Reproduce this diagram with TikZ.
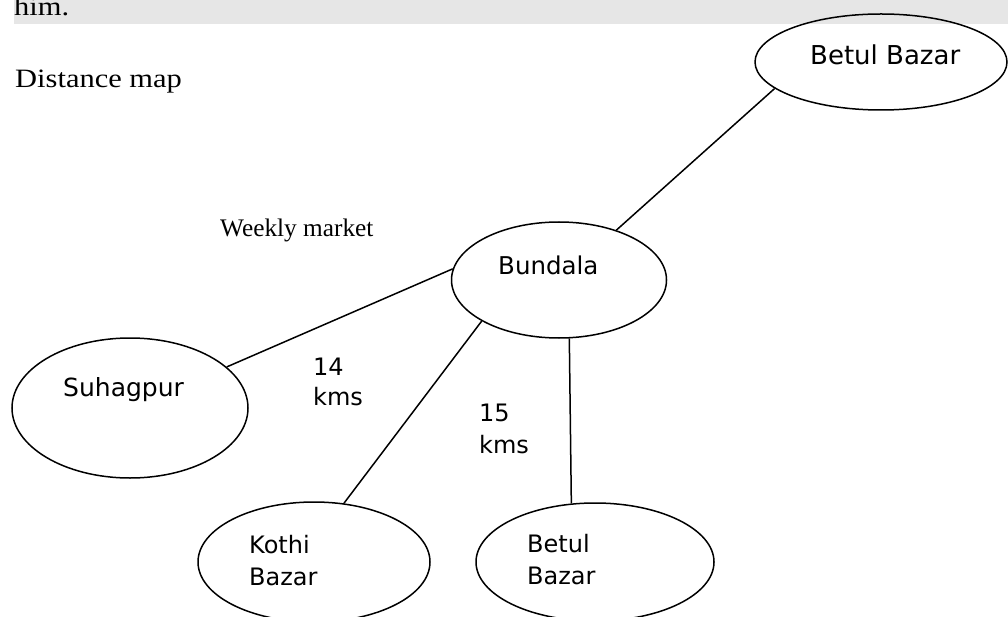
\documentclass[tikz,border=0pt]{standalone}
\usepackage{fontspec}
\setmainfont{Liberation Serif}
\newfontfamily\labfont{DejaVu Sans}
\usetikzlibrary{shapes.geometric}
\definecolor{bargray}{HTML}{E6E6E6}
\tikzset{
  place/.style={draw, ellipse, line width=1.5pt, inner sep=0pt},
  lab/.style={anchor=base west, inner sep=0pt, align=left, font=\labfont\fontsize{24}{32}\selectfont},
  serif/.style={anchor=base west, inner sep=0pt},
  link/.style={line width=1.5pt}
}
\begin{document}
\begin{tikzpicture}[x=1pt,y=-1pt]
\useasboundingbox (0,0) rectangle (1008,617);
\fill[bargray] (14,0) rectangle (1008,24);
\node[serif] (him) at (14,16) {\fontsize{26.5}{30}\selectfont\scalebox{1.15}[1]{him.}};
\node[serif] (title) at (15,88) {\fontsize{26.5}{30}\selectfont\scalebox{1.15}[1]{Distance map}};
\node[serif] (weekly) at (220,237) {\fontsize{25.3}{30}\selectfont Weekly market};

\node[place, minimum width=252pt, minimum height=96pt] (betultop) at (881,62) {};
\node[place, minimum width=215pt, minimum height=116pt] (bundala) at (559,280) {};
\node[place, minimum width=236pt, minimum height=140pt] (suhagpur) at (130,408) {};
\node[place, minimum width=232pt, minimum height=120pt] (kothi) at (314,562) {};
\node[place, minimum width=238pt, minimum height=118pt] (betulbot) at (595,562) {};

\node[lab, font=\labfont\fontsize{26}{31}\selectfont] (tBetulTop) at (810,65) {Betul Bazar};
\node[lab, font=\labfont\fontsize{24.5}{31}\selectfont] (tBundala) at (498,275) {Bundala};
\node[lab, font=\labfont\fontsize{25}{31}\selectfont] (tSuhagpur) at (63,396) {Suhagpur};
\node[lab] (tKothi) at (249,585) {Kothi\\Bazar};
\node[lab] (tBetulBot) at (527,584) {Betul\\Bazar};
\node[lab, font=\labfont\fontsize{24}{30}\selectfont] (d14) at (313,405) {14\\kms};
\node[lab] (d15) at (479,453) {15\\kms};

\draw[link] (bundala.41.5) -- (betultop.194.5);
\draw[link] (suhagpur.23.9) -- (bundala.174.7);
\draw[link] (bundala.208) -- (kothi.63);
\draw[link] (bundala.280.74) -- (betulbot.112.96);
\end{tikzpicture}
\end{document}
